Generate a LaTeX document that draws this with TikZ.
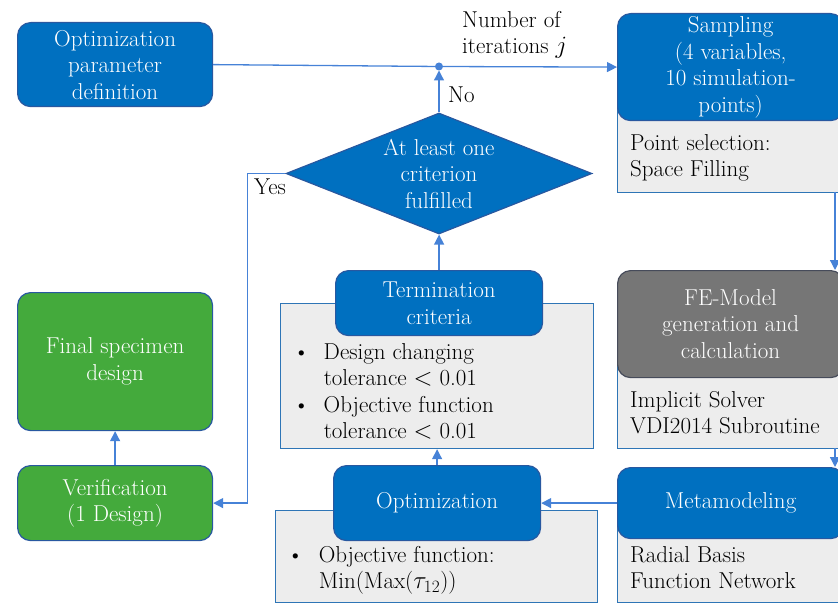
\documentclass[tikz,border=0pt]{standalone}
\usetikzlibrary{arrows.meta,shapes.geometric}
\definecolor{bluefill}{RGB}{0,112,192}
\definecolor{blueedge}{RGB}{40,88,160}
\definecolor{greenfill}{RGB}{68,170,60}
\definecolor{grayfill}{RGB}{237,237,237}
\definecolor{grayedge}{RGB}{46,117,182}
\definecolor{femfill}{RGB}{118,118,118}
\definecolor{femedge}{RGB}{70,75,90}
\definecolor{conn}{RGB}{70,130,215}
\begin{document}
\begin{tikzpicture}[x=1pt,y=-1pt,
  every node/.style={font=\fontsize{23}{26.5}\selectfont},
  bluebox/.style={draw=blueedge, fill=bluefill, line width=1.2pt, rounded corners=13pt,
    text=white, align=center, inner sep=0pt, anchor=north west},
  greenbox/.style={bluebox, fill=greenfill},
  fembox/.style={bluebox, fill=femfill, draw=femedge},
  graybox/.style={draw=grayedge, fill=grayfill, line width=1.2pt, inner sep=0pt, anchor=north west},
  infotext/.style={inner sep=0pt, anchor=north west, text=black},
  lbl/.style={inner sep=0pt, text=black},
  conline/.style={draw=conn, line width=1.3pt},
  arr/.style={conline, -{Triangle[length=10pt,width=10pt]}}
]
\useasboundingbox (0,0) rectangle (838,604);
\clip (0,0) rectangle (838,604);

% gray info boxes (behind)
\node[graybox, minimum width=232pt, minimum height=97pt] (sampg) at (617,95) {};
\node[graybox, minimum width=232pt, minimum height=98pt] (feg) at (617,350) {};
\node[graybox, minimum width=232pt, minimum height=92pt] (metag) at (617,510) {};
\node[graybox, minimum width=322pt, minimum height=92pt] (optg) at (275,510) {};
\node[graybox, minimum width=313pt, minimum height=145pt] (termg) at (280,303) {};

% main boxes
\node[bluebox, minimum width=195pt, minimum height=84pt] (odef) at (17,22) {Optimization\\parameter\\definition};
\node[bluebox, minimum width=226pt, minimum height=107pt] (samp) at (617,13) {Sampling\\(4 variables,\\10 simulation-\\points)};
\node[fembox, minimum width=226pt, minimum height=107pt] (fe) at (617,270) {FE-Model\\generation and\\calculation};
\node[bluebox, minimum width=226pt, minimum height=71pt] (meta) at (617,467) {Metamodeling};
\node[bluebox, minimum width=207pt, minimum height=75pt] (opt) at (333,465) {Optimization};
\node[bluebox, minimum width=207pt, minimum height=65pt] (term) at (335,270) {Termination\\criteria};
\node[greenbox, minimum width=195pt, minimum height=138pt] (final) at (17,292) {Final specimen\\design};
\node[greenbox, minimum width=195pt, minimum height=75pt] (ver) at (17,465) {Verification\\(1 Design)};
\node[diamond, draw=blueedge, fill=bluefill, line width=1.2pt, inner sep=0pt, aspect=2.53,
      minimum width=306pt, minimum height=121pt] (dia) at (439,173.5) {};
\node[inner sep=0pt, text=white, align=center] (diat) at (dia.center) {At least one\\criterion\\fulfilled};

% info texts
\node[infotext] (sampt) at (630,131.5) {\begin{tabular}{@{}l@{}}Point selection:\\Space Filling\end{tabular}};
\node[infotext] (fet) at (630,388.5) {\begin{tabular}{@{}l@{}}Implicit Solver\\VDI2014 Subroutine\end{tabular}};
\node[infotext] (metat) at (630,543.5) {\begin{tabular}{@{}l@{}}Radial Basis\\Function Network\end{tabular}};
\node[infotext] (termt) at (293,340.5) {\begin{tabular}{@{}l@{\hspace{14pt}}l@{}}\textbullet & Design changing\\ & tolerance $<$ 0.01\\ \textbullet & Objective function\\ & tolerance $<$ 0.01\end{tabular}};
\node[infotext] (optt) at (287,543.5) {\begin{tabular}{@{}l@{\hspace{15pt}}l@{}}\textbullet & Objective function:\\ & Min(Max($\tau_{12}$))\end{tabular}};

% labels
\node[lbl, anchor=west, align=left] (iter) at (462,35) {Number of\\iterations $j$};
\node[lbl, anchor=west] (no) at (448,95) {No};
\node[lbl, anchor=west] (yes) at (254,187) {Yes};

% connectors
\coordinate (dot) at (439,66.5);
\draw[conline] (odef.east) -- (dot);
\draw[arr] (dot) -- (samp.west);
\fill[conn] (dot) circle (4pt);
\draw[arr] (dia.north) -- ([yshift=-4pt]dot);
\coordinate (r1) at (835,192);
\draw[arr] (r1) -- (r1 |- fe.north);
\coordinate (r2) at (835,448);
\draw[arr] (r2) -- (r2 |- meta.north);
\draw[arr] (meta.west) -- (opt.east);
\draw[arr] (opt.north) -- (opt.north |- termg.south);
\draw[arr] (term.north) -- (term.north |- dia.south);
\draw[arr] (dia.west) -- ++(-38,0) |- (ver.east);
\draw[arr] (ver.north) -- (final.south);
\end{tikzpicture}
\end{document}
